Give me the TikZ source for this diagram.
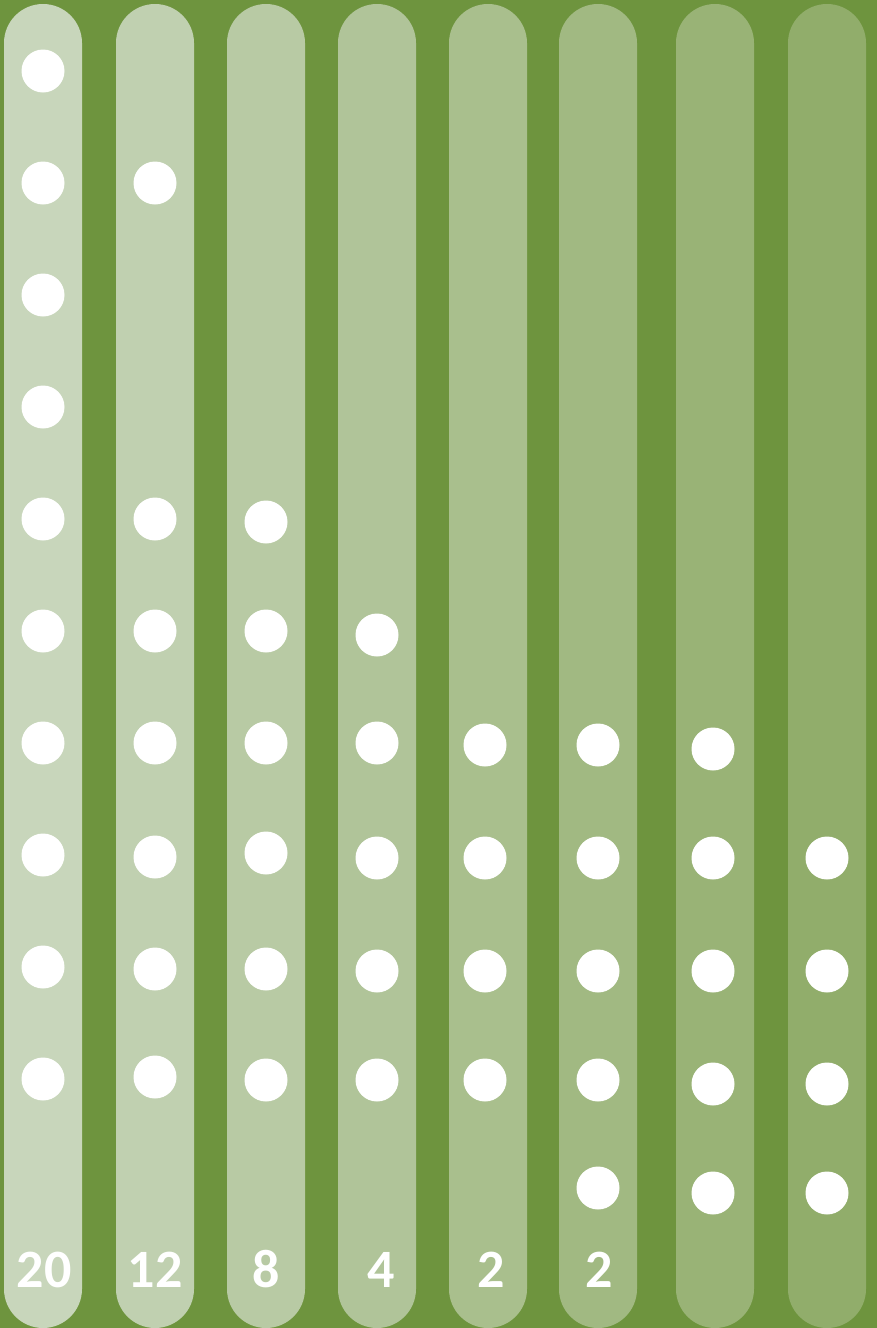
\documentclass[tikz,border=0pt]{standalone}
\usepackage{fontspec}
\setmainfont{Carlito}
\definecolor{bg}{RGB}{110,148,62}
\definecolor{c1}{RGB}{200,214,187}
\definecolor{c2}{RGB}{192,208,176}
\definecolor{c3}{RGB}{184,202,164}
\definecolor{c4}{RGB}{176,196,153}
\definecolor{c5}{RGB}{169,191,141}
\definecolor{c6}{RGB}{161,185,130}
\definecolor{c7}{RGB}{153,179,118}
\definecolor{c8}{RGB}{145,173,107}
\tikzset{
  bar/.style={rounded corners=39pt},
  dot/.style={circle, fill=white, minimum size=43pt, inner sep=0pt},
  num/.style={text=white, font=\fontsize{54}{54}\selectfont\bfseries, anchor=base, inner sep=0pt}
}
\begin{document}
\begin{tikzpicture}[x=1pt,y=-1pt]
\fill[bg] (0,0) rectangle (877,1328);
\useasboundingbox (0,0) rectangle (877,1328);
% columns
\foreach \cx/\col in {43/c1,155/c2,266/c3,377/c4,488/c5,598/c6,715/c7,827/c8}{
  \fill[\col, bar] (\cx-39,4) rectangle (\cx+39,1328);
}
% column 1
\foreach \y [count=\i] in {71,183,295,407,519,631,743,855,967,1079}
  \node[dot] (a\i) at (43,\y) {};
% column 2
\foreach \y [count=\i] in {183,519,631,743,857,969,1077}
  \node[dot] (b\i) at (155,\y) {};
% column 3
\foreach \y [count=\i] in {522,631,743,853,969,1080}
  \node[dot] (c\i) at (266,\y) {};
% column 4
\foreach \y [count=\i] in {635,743,858,971,1080}
  \node[dot] (e\i) at (377,\y) {};
% column 5
\foreach \y [count=\i] in {745,858,971,1080}
  \node[dot] (f\i) at (485,\y) {};
% column 6
\foreach \y [count=\i] in {745,858,971,1080,1188}
  \node[dot] (g\i) at (598,\y) {};
% column 7
\foreach \y [count=\i] in {749,858,971,1084,1193}
  \node[dot] (h\i) at (713,\y) {};
% column 8
\foreach \y [count=\i] in {858,971,1084,1193}
  \node[dot] (k\i) at (827,\y) {};
% numbers
\node[num] (n1) at (44,1287) {20};
\node[num] (n2) at (155,1287) {12};
\node[num] (n3) at (266,1287) {8};
\node[num] (n4) at (381,1287) {4};
\node[num] (n5) at (491,1287) {2};
\node[num] (n6) at (599,1287) {2};
\end{tikzpicture}
\end{document}
